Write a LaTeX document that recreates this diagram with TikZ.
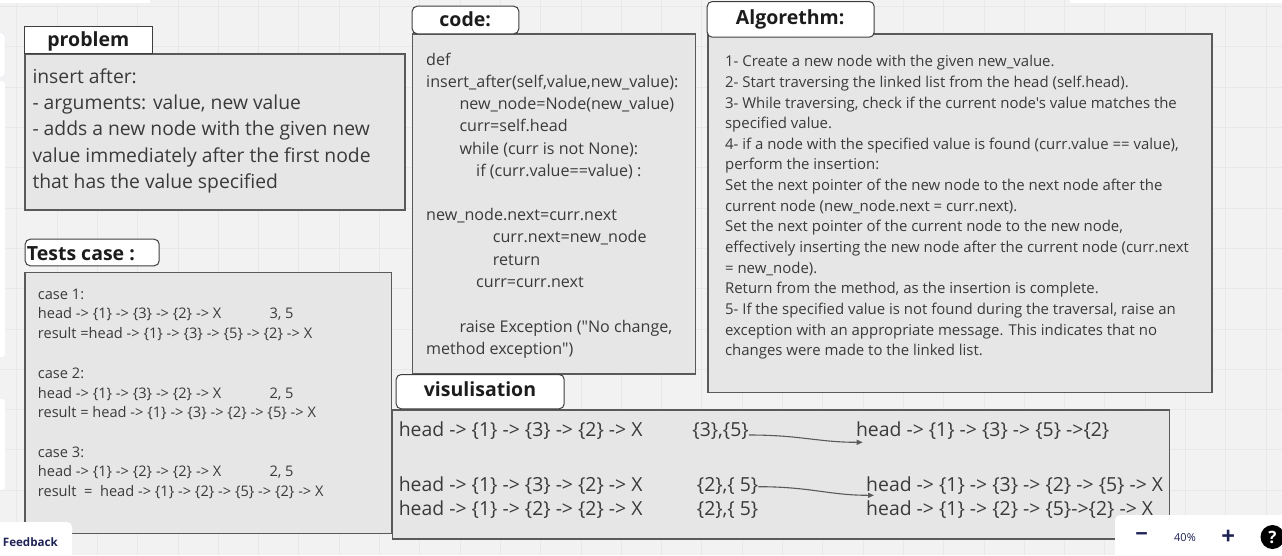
\documentclass[tikz,border=0pt]{standalone}
\usepackage{fontspec}
\setmainfont{Open Sans}[Ligatures=TeXOff]
\usetikzlibrary{arrows.meta,calc}
\definecolor{bg}{HTML}{F2F2F2}
\definecolor{gridc}{HTML}{E8E8E8}
\definecolor{boxfill}{HTML}{E6E6E6}
\definecolor{boxline}{HTML}{5A5A5A}
\definecolor{txt}{HTML}{3A3A3A}
\definecolor{ttl}{HTML}{1C1C1C}
\definecolor{navy}{HTML}{1E2355}
\definecolor{edgeblue}{HTML}{DCE4F5}
\tikzset{
  panel/.style={draw=boxline, fill=boxfill, line width=1.2pt, anchor=north west, inner sep=0pt},
  titlebox/.style={draw=ttl!85, fill=white, line width=1pt, rounded corners=5pt, anchor=north west, inner sep=0pt},
  titletext/.style={anchor=base, inner sep=0pt, text=ttl, font=\bfseries\fontsize{19.5}{22}\selectfont},
  txtline/.style={anchor=base west, inner sep=0pt, text=txt},
  probtext/.style={txtline, font=\fontsize{19.3}{23}\selectfont},
  codetext/.style={txtline, font=\fontsize{16.1}{20}\selectfont},
  algtext/.style={txtline, font=\fontsize{14.95}{18}\selectfont},
  testtext/.style={txtline, font=\fontsize{14.6}{18}\selectfont},
  vistext/.style={txtline, font=\fontsize{19.4}{23}\selectfont},
  conn/.style={draw=boxline, line width=1.1pt, -{Triangle[length=6pt,width=5pt]}},
  gridline/.style={draw=gridc, line width=0.8pt},
  uipanel/.style={fill=white}
}
\begin{document}
\begin{tikzpicture}[x=1pt,y=-1pt]
\useasboundingbox (0,0) rectangle (1282,555);
\fill[bg] (0,0) rectangle (1282,555);
% grid
\foreach \g in {0,...,31} \draw[gridline] ({16.7+40.3*\g},0) -- ++(0,555);
\foreach \g in {0,...,13} \draw[gridline] (0,{6.5+40.3*\g}) -- ++(1282,0);
% UI strips
\fill[uipanel] (0,-5) rectangle (150,2.5);
\fill[uipanel] (1070,-5) rectangle (1290,2.5);
\filldraw[uipanel, draw=edgeblue, rounded corners=3pt] (-8,33) rectangle (5,77);
\fill[uipanel, rounded corners=3pt] (-8,81) rectangle (5,357);
\fill[uipanel, rounded corners=3pt] (-8,399) rectangle (5,490);

% ---------- problem ----------
\node[panel, minimum width=380, minimum height=156] (probbox) at (24.3,53.3) {};
\node[titlebox, rounded corners=0pt, minimum width=128, minimum height=27] (probtitle) at (24.3,26.3) {};
\node[titletext] (probtitletext) at (88.3,46.7) {problem};
\foreach \t [count=\i from 0] in {{insert after:},{- arguments: value, new value},{- adds a new node with the given new},{value immediately after the first node},{that has the value specified}}
  \node[probtext] (prob\i) at (32.3,{83.3+26.3*\i}) {\t};

% ---------- tests ----------
\node[panel, minimum width=366.4, minimum height=261] (testbox) at (24.3,271.7) {};
\node[titlebox, minimum width=134, minimum height=26.6] (testtitle) at (24.7,238.7) {};
\node[titletext, anchor=base west] (testtitletext) at (26.7,260) {Tests case :};
\foreach \y/\t [count=\i] in {
  299.8/{case 1:},
  318.8/{head -> \{1\} -> \{3\} -> \{2\} -> X},
  338.6/{result =head -> \{1\} -> \{3\} -> \{5\} -> \{2\} -> X},
  378.8/{case 2:},
  398.3/{head -> \{1\} -> \{3\} -> \{2\} -> X},
  417.7/{result = head -> \{1\} -> \{3\} -> \{2\} -> \{5\} -> X},
  457.7/{case 3:},
  476.9/{head -> \{1\} -> \{2\} -> \{2\} -> X},
  496/{result\ \ =\ \ head -> \{1\} -> \{2\} -> \{5\} -> \{2\} -> X}}
  \node[testtext] (test\i) at (37.7,\y) {\t};
\node[testtext] (arg1) at (269.3,318.8) {3, 5};
\node[testtext] (arg2) at (269.3,398.3) {2, 5};
\node[testtext] (arg3) at (269.3,476.9) {2, 5};

% ---------- code ----------
\node[panel, minimum width=283, minimum height=340] (codebox) at (411.7,33.3) {};
\node[titlebox, minimum width=106.6, minimum height=27.6] (codetitle) at (411.7,5.7) {};
\node[titletext] (codetitletext) at (465.2,26.7) {code:};
\foreach \x/\y/\t [count=\i] in {
  426/65.3/def,
  426/87.1/{insert\_after(self,value,new\_value):},
  459.3/109.5/{new\_node=Node(new\_value)},
  459.3/131.8/{curr=self.head},
  459.3/154.2/{while (curr is not None):},
  476/176.6/{if (curr.value==value) :},
  426/220.3/{new\_node.next=curr.next},
  492.7/242.8/{curr.next=new\_node},
  492.7/265.2/{return},
  476/287.6/{curr=curr.next},
  459.3/332.2/{raise Exception ("No change,},
  426/354.5/{method exception")}}
  \node[codetext] (code\i) at (\x,\y) {\t};

% ---------- algorithm ----------
\node[panel, minimum width=504, minimum height=358.4] (algbox) at (707.4,33.3) {};
\node[titlebox, minimum width=167, minimum height=35.7] (algtitle) at (706.7,1) {};
\node[titletext] (algtitletext) at (790.2,24.3) {Algorethm:};
\foreach \t [count=\i from 0] in {
  {1- Create a new node with the given new\_value.},
  {2- Start traversing the linked list from the head (self.head).},
  {3- While traversing, check if the current node's value matches the},
  {specified value.},
  {4- if a node with the specified value is found (curr.value == value),},
  {perform the insertion:},
  {Set the next pointer of the new node to the next node after the},
  {current node (new\_node.next = curr.next).},
  {Set the next pointer of the current node to the new node,},
  {effectively inserting the new node after the current node (curr.next},
  {= new\_node).},
  {Return from the method, as the insertion is complete.},
  {5- If the specified value is not found during the traversal, raise an},
  {exception with an appropriate message. This indicates that no},
  {changes were made to the linked list.}}
  \node[algtext] (alg\i) at (724.9,{66.7+20.65*\i}) {\t};

% ---------- visualisation ----------
\node[panel, minimum width=777, minimum height=129] (visbox) at (391.7,409.3) {};
\node[titlebox, minimum width=168, minimum height=34.3] (vistitle) at (395.7,374) {};
\node[titletext] (vistitletext) at (480,396.7) {visulisation};
\node[vistext] (vl1) at (398.6,436.7) {head -> \{1\} -> \{3\} -> \{2\} -> X};
\node[vistext] (vm1) at (692.2,436.7) {\{3\},\{5\}};
\node[vistext] (vr1) at (855.8,436.7) {head -> \{1\} -> \{3\} -> \{5\} ->\{2\}};
\node[vistext] (vl2) at (398.6,491.2) {head -> \{1\} -> \{3\} -> \{2\} -> X};
\node[vistext] (vm2) at (696.7,491.2) {\{2\},\{ 5\}};
\node[vistext] (vr2) at (866,491.2) {head -> \{1\} -> \{3\} -> \{2\} -> \{5\} -> X};
\node[vistext] (vl3) at (398.6,515.5) {head -> \{1\} -> \{2\} -> \{2\} -> X};
\node[vistext] (vm3) at (696.7,515.5) {\{2\},\{ 5\}};
\node[vistext] (vr3) at (866,515.5) {head -> \{1\} -> \{2\} -> \{5\}->\{2\} -> X};
\coordinate (a1e) at (862.7,442.3);
\coordinate (a2e) at (874,495.3);
\draw[conn] ($(vm1.base east)+(0,-1.7)$) .. controls +(52,0) and +(-45,0) .. (a1e);
\draw[conn] ($(vm2.base east)+(0,-4.5)$) .. controls +(52,0) and +(-45,0) .. (a2e);

% ---------- UI chrome ----------
\fill[uipanel, rounded corners=5pt] (-10,522) rectangle (72,570);
\node[inner sep=0pt, anchor=base west, text=navy, font=\bfseries\fontsize{11.6}{14}\selectfont] (feedback) at (2.7,546) {Feedback};
\fill[uipanel, rounded corners=5pt] (1115,515) rectangle (1300,570);
\node[inner sep=0pt, text=navy, font=\bfseries\fontsize{22}{24}\selectfont] (zminus) at (1141.7,537.5) {−};
\node[inner sep=0pt, text=navy, font=\fontsize{11}{14}\selectfont] (zpct) at (1185,538) {40\%};
\node[inner sep=0pt, text=navy, font=\bfseries\fontsize{24}{26}\selectfont] (zplus) at (1228.3,537) {+};
\node[circle, fill=black, minimum size=24, inner sep=0pt, text=white, font=\bfseries\fontsize{17}{20}\selectfont] (zhelp) at (1272.5,537) {?};
\end{tikzpicture}
\end{document}
